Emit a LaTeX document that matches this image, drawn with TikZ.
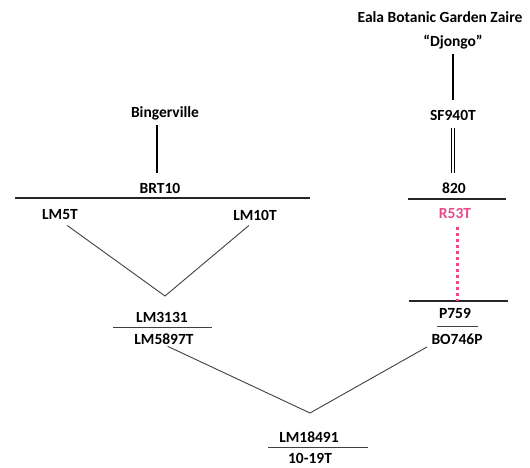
\documentclass[tikz,border=0pt]{standalone}
\usepackage{fontspec}
\setmainfont{Carlito}
\definecolor{pedpink}{RGB}{232,74,140}

\begin{document}
\begin{tikzpicture}[x=1pt,y=-1pt,
  lbl/.style={inner sep=0pt,font=\fontsize{15.5}{17}\selectfont\bfseries},
  bar/.style={line width=2.4pt,black!85},
  thin/.style={line width=0.9pt,black!75}]
\useasboundingbox (0,0) rectangle (530,468);

% right branch
\path (440,17) node[lbl] (eala) {Eala Botanic Garden Zaire};
\path (453,42) node[lbl] (djongo) {``Djongo''};
\path (453,115) node[lbl] (sf940t) {SF940T};
\draw[line width=1.5pt,shorten <=5pt,shorten >=10pt] (djongo.south) -- (sf940t.north);
\path (454,188) node[lbl] (p820) {820};
\draw[double,double distance=2.2pt,line width=1.1pt,shorten <=8pt,shorten >=9pt] (sf940t.south-|453,0) -- (p820.north-|453,0);
\coordinate (b820a) at (408,199);
\coordinate (b820b) at (506,199);
\draw[bar] (b820a) -- (b820b);
\path (455,213) node[lbl,text=pedpink] (r53t) {R53T};
\path (455,313) node[lbl] (p759) {P759};
\coordinate (b759a) at (409,301);
\coordinate (b759b) at (508,301);
\draw[bar] (b759a) -- (b759b);
\draw[pedpink,line width=3pt,dash pattern=on 3pt off 3pt,shorten <=9pt] (r53t.south-|457,0) -- (457,301);
\coordinate (b746a) at (437,326);
\coordinate (b746b) at (478,326);
\draw[thin] (b746a) -- (b746b);
\path (457,339) node[lbl] (bo746p) {BO746P};

% left branch
\path (165,113) node[lbl] (bing) {Bingerville};
\path (160,188) node[lbl] (brt10) {BRT10};
\draw[line width=1.5pt,shorten <=5pt,shorten >=10pt] (bing.south-|157,0) -- (brt10.north-|157,0);
\coordinate (brta) at (15,198);
\coordinate (brtb) at (310,198);
\draw[bar] (brta) -- (brtb);
\path (60,215) node[lbl] (lm5t) {LM5T};
\path (255,215) node[lbl] (lm10t) {LM10T};
\coordinate (v1) at (165,296);
\draw[thin,shorten <=9pt,shorten >=8pt] (lm5t.south) -- (v1) -- (lm10t.south);
\path (162,317) node[lbl] (lm3131) {LM3131};
\coordinate (b3131a) at (113,327);
\coordinate (b3131b) at (212,327);
\draw[thin] (b3131a) -- (b3131b);
\path (164,339) node[lbl] (lm5897t) {LM5897T};

% offspring
\coordinate (v2) at (310,413);
\draw[thin,shorten <=4pt,shorten >=5pt] (lm5897t.south) -- (v2) -- (bo746p.south west);
\path (309,437) node[lbl] (lm18491) {LM18491};
\coordinate (b18491a) at (268,447);
\coordinate (b18491b) at (368,447);
\draw[thin] (b18491a) -- (b18491b);
\path (310,458) node[lbl] (t1019t) {10-19T};
\end{tikzpicture}
\end{document}
